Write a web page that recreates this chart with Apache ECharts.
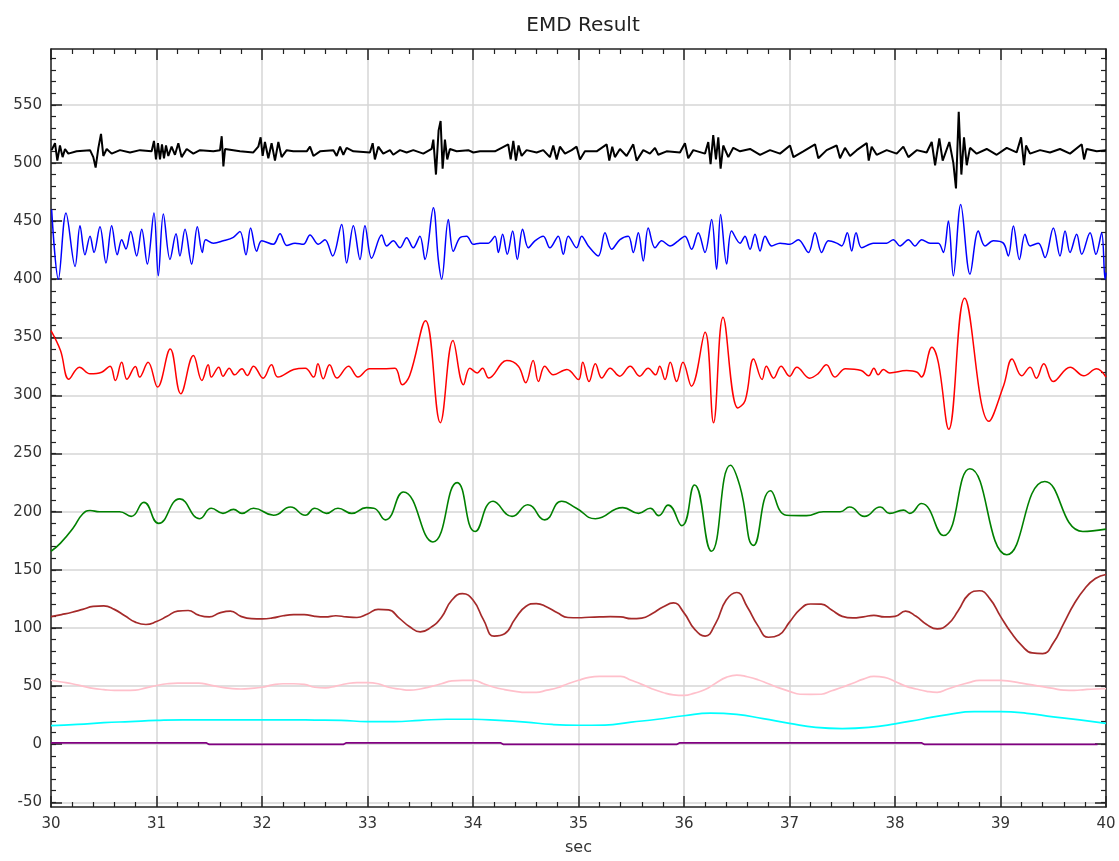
<!DOCTYPE html>
<html>
<head>
<meta charset="utf-8">
<title>EMD Result</title>
<script src="https://cdn.jsdelivr.net/npm/echarts@6/dist/echarts.min.js"></script>
<style>
html,body{margin:0;padding:0;background:#fff}
#chart{width:1119px;height:861px}
</style>
</head>
<body>
<div id="chart"></div>
<script>
// tick labels
const xTicks=[30,31,32,33,34,35,36,37,38,39,40];
const yMajor=[-50,0,50,100,150,200,250,300,350,400,450,500,550];
const yMinor=[-50,-40,-30,-20,-10,0,10,20,30,40,50,60,70,80,90,100,110,120,130,140,150,160,170,180,190,200,210,220,230,240,250,260,270,280,290,300,310,320,330,340,350,360,370,380,390,400,410,420,430,440,450,460,470,480,490,500,510,520,530,540,550,560,570,580,590];

// IMF 1 (black), read at its peaks
const blackT=[30.006,30.038,30.06,30.085,30.11,30.133,30.164,30.243,30.37,30.401,30.423,30.449,30.474,30.496,30.528,30.575,30.654,30.749,30.843,30.954,30.976,30.995,31.014,31.033,31.052,31.071,31.09,31.112,31.143,31.175,31.207,31.238,31.286,31.349,31.412,31.539,31.602,31.618,31.634,31.65,31.791,31.918,31.965,31.987,32.006,32.028,32.06,32.091,32.123,32.155,32.186,32.234,32.297,32.424,32.455,32.487,32.55,32.677,32.708,32.74,32.771,32.802,32.866,33.023,33.049,33.07,33.102,33.149,
33.213,33.244,33.308,33.371,33.434,33.529,33.608,33.624,33.649,33.674,33.693,33.712,33.734,33.756,33.781,33.845,33.955,34.003,34.066,34.208,34.334,34.357,34.382,34.407,34.432,34.461,34.508,34.603,34.666,34.729,34.761,34.793,34.824,34.872,34.935,34.982,35.014,35.061,35.172,35.267,35.292,35.32,35.345,35.393,35.456,35.519,35.551,35.614,35.677,35.725,35.756,35.835,35.962,36.009,36.04,36.088,36.199,36.23,36.252,36.277,36.303,36.325,36.347,36.372,36.42,36.467,
36.531,36.626,36.721,36.815,36.91,37.005,37.037,37.131,37.242,37.273,37.352,37.447,37.479,37.526,37.574,37.637,37.732,37.751,37.779,37.826,37.921,38.016,38.079,38.127,38.206,38.3,38.348,38.38,38.42,38.452,38.515,38.553,38.578,38.604,38.629,38.654,38.68,38.711,38.774,38.869,38.964,39.059,39.153,39.195,39.223,39.242,39.28,39.375,39.469,39.564,39.659,39.77,39.792,39.817,39.912,40.0];
const blackV=[511,517,502,515,505,512,508,510,511,505,496,513,525,506,512,508,511,509,511,510,519,503,517,503,516,504,515,506,514,507,517,505,512,508,511,510,511,523,497,512,510,509,514,522,506,518,504,517,502,518,505,511,510,510,514,506,510,511,506,514,507,513,510,509,517,503,514,508,
511,507,511,509,511,508,512,520,490,528,536,495,520,503,512,510,511,509,510,510,516,503,519,502,515,506,511,509,511,505,515,503,514,508,511,514,503,510,510,516,502,514,505,512,506,516,502,511,508,513,507,510,509,517,504,511,508,518,499,524,503,522,495,515,505,513,
510,512,507,511,508,515,505,510,516,504,511,515,504,513,506,511,517,502,514,507,511,508,514,505,511,509,518,498,521,502,518,500,478,544,490,522,498,513,508,512,507,513,509,522,498,515,508,511,509,512,508,516,503,512,510,511];

// IMF 2 (blue)
const blueT=[30.006,30.07,30.142,30.228,30.275,30.322,30.37,30.408,30.464,30.521,30.575,30.628,30.67,30.711,30.755,30.812,30.86,30.913,30.976,31.017,31.065,31.128,31.185,31.222,31.27,31.333,31.387,31.434,31.466,31.539,31.633,31.728,31.791,31.848,31.892,31.949,31.997,32.107,32.171,32.234,32.313,32.392,32.455,32.534,32.597,32.67,32.755,32.802,32.866,32.929,32.976,33.039,33.134,
33.181,33.244,33.308,33.371,33.434,33.497,33.545,33.624,33.671,33.703,33.766,33.813,33.876,33.94,34.003,34.066,34.145,34.208,34.24,34.281,34.325,34.376,34.42,34.47,34.524,34.587,34.666,34.729,34.808,34.856,34.903,34.982,35.03,35.093,35.188,35.251,35.314,35.393,35.472,35.519,35.567,35.614,35.661,35.725,35.788,35.867,35.946,36.009,36.072,36.135,36.199,36.262,36.309,36.347,36.404,36.451,
36.531,36.578,36.626,36.673,36.721,36.768,36.831,36.91,37.005,37.084,37.179,37.242,37.305,37.368,37.447,37.495,37.548,37.589,37.631,37.684,37.795,37.921,37.984,38.048,38.127,38.19,38.253,38.332,38.411,38.458,38.506,38.553,38.623,38.711,38.79,38.853,38.932,39.027,39.074,39.122,39.179,39.232,39.28,39.359,39.422,39.501,39.564,39.612,39.659,39.722,39.77,39.849,39.905,39.959,39.991,40.0];
const blueV=[460,400,457,411,446,421,437,423,445,414,446,421,434,426,441,420,443,413,457,403,456,417,439,420,443,413,445,423,434,431,433,436,441,421,444,424,433,430,439,429,431,430,438,430,434,420,447,414,446,417,446,418,438,
428.6,433,427,435.7,427,437,417,461.4,417,400,451.4,424,435.7,437,430,431,431,437,423,438.6,421.4,441.4,417,443,427,433,437,427,437,421.4,437,427,437,428.6,420,440,425.7,434,437,423,440,415.7,444,427,433,428.6,433,437,425.7,440,423,451.4,408.6,455.7,413,441.4,
431,437,425.7,438.6,424.3,437,428.6,431,430,434,423,440,423,433,431,428.6,440,424.3,440,427,431,431,434,428.6,434,428.6,434,431,431,423,450,402.9,464.3,404.3,441.4,428.6,433,431,420,445.7,417,438.6,428.6,431,418.6,444,420,441.4,423,438.6,421.4,440,421.4,440,400,405.7];

// IMF 3 (red)
const redT=[30.0,30.09,30.17,30.27,30.37,30.48,30.56,30.61,30.67,30.72,30.8,30.84,30.92,31.01,31.13,31.23,31.35,31.43,31.49,31.52,31.59,31.63,31.69,31.74,31.81,31.86,31.92,32.01,32.09,32.15,32.3,32.41,32.49,32.53,32.58,32.64,32.71,32.82,32.91,33.02,33.15,33.26,33.33,33.4,33.55,33.69,33.81,33.91,33.97,34.04,34.09,34.15,34.32,34.43,34.5,34.57,34.62,34.68,34.76,34.89,35.0,35.04,35.1,35.16,35.22,35.3,35.39,35.49,35.58,35.66,35.73,35.77,35.82,35.87,35.93,35.99,36.07,36.2,36.28,36.37,36.51,36.58,36.66,36.74,36.78,36.85,36.92,37.0,37.07,37.19,37.27,37.35,37.43,37.53,37.68,37.75,37.8,37.84,37.89,37.95,38.11,38.21,38.25,38.35,38.41,38.51,38.66,38.89,39.03,39.11,39.2,39.28,39.34,39.41,39.5,39.66,39.79,39.91,40.0];
const redV=[355.7,338.6,314,324.3,318.6,320,325.2,312.9,328.6,314,325,315.8,328.6,307.2,340,301.5,334.3,312.9,326.3,315.8,324.3,316.6,323.5,317.7,322.9,317.1,325.2,314.9,326.3,315.8,322.3,323.5,315.8,327.2,314.3,326.3,315,325.2,315.8,322.9,322.9,323.5,309.2,317.1,364.3,276.6,347.2,309.2,323.5,319.4,323.5,315,330,325.2,310.9,330,312,325.2,317.7,322.3,313.7,328.6,312,327.2,315,323.5,316.6,325.2,316.6,323.5,317.7,325.2,313.7,328.6,312,328.6,308,354.3,276.6,367.2,289.2,295.7,331.4,313.7,325.2,314.9,325.2,316.6,324.3,314.9,318.6,326.3,315.8,322.9,321.4,316.9,323.5,317.7,322.3,319.4,321.4,320,315.8,341.5,328.6,270.9,383.5,277.7,308.6,331.4,316.9,324.3,314.9,327.2,312,324.3,316.9,322.9,315.8];

// IMF 4 (green)
const greenT=[30.0,30.09,30.21,30.3,30.37,30.46,30.65,30.76,30.88,31.02,31.22,31.41,31.52,31.63,31.73,31.81,31.92,32.11,32.27,32.41,32.5,32.61,32.72,32.85,32.99,33.06,33.17,33.34,33.62,33.85,34.02,34.19,34.37,34.52,34.68,34.84,34.98,35.16,35.42,35.57,35.68,35.76,35.85,35.98,36.1,36.26,36.44,36.53,36.66,36.82,36.97,37.16,37.32,37.48,37.57,37.71,37.86,37.95,38.08,38.14,38.25,38.46,38.71,39.06,39.42,39.78,40.0];
const greenV=[166,173,186,198,201,200,200,196,208,190,211,194,203,198.6,202,198.6,203,197,204,197,203,198.6,203,198.6,203.5,203,193,217,174,225,183,209,196,206,193,209,203,194,203.5,198.6,203,196.6,205.7,188,223,166,240,222,171,218,197,196.6,200,200,204,196,204,198.6,201.4,198.6,207,179.5,237,163,226,183,185];

// IMF 5 (brown), every 0.1 s from 30
const brownV=[109.7,111.5,113.5,116,118.5,119,116,110.5,105,103,
105.5,110,114.5,115,111,109.5,113,114.5,110,108,
107.8,108.6,110.5,111.4,111.4,110,109.5,110.5,109.5,109,
112,116,115.5,108.5,101,96.6,100.5,109,124,129.5,
124,107,93,95,108,118.5,121,118,113,109,
108.8,109.2,109.5,109.7,109.5,108,108.5,112.5,118,121.5,
113,99,93,104,124,130.5,118,102,92,94,
105,116,120.6,120.5,115.5,110,108.6,109.5,110.9,109.5,
110,114.5,110,103,99.2,103,115,129,132,125,
110,96,85,78.5,78,87,104,121,134,142.5,
146];

// IMF 6 (pink), every 0.1 s from 30
const pinkV=[55,53.5,52,50,48,47,46.3,46.3,46.5,48.5,
50.5,52,52.6,52.6,52.6,51,49.2,48,47.5,48,
49,51,52,52,51.5,49,48.5,50,52,53,
53,52,49,47.5,46.5,47.5,49.5,52,54.5,55,
55,52,49,47,45.5,44.6,44.6,46.5,48.6,52,
55,57.5,58.3,58.3,58.3,55,51.5,47.5,44.5,42.5,
42,44,47,52.5,57.5,59.5,58,55.5,52,48.5,
45.5,43,42.9,43,46,49,52.5,56,58.3,57.5,
54,50,47.5,45.5,44.6,47.5,50.5,53,55,55,
55,54,52.5,51,49.5,48,46.5,46.3,47,47.5,
47.7];

// IMF 7 (cyan), every 0.25 s from 30
const cyanV=[16,17,18.5,19.5,20.5,21,21,21,21,21,
20.8,20.5,19.5,19.5,20.5,21.5,21.5,20.5,19,17,
16.3,16.5,19,21.5,24.5,26.8,25.7,22,18,14.5,
13.5,14.5,17.5,21.5,25.5,28,28,26.6,23.5,21,
18];

// residue (purple)
const purpleT=[30,31.47,31.5,32.77,32.8,34.26,34.29,35.93,35.96,38.25,38.28,39.92];
const purpleV=[1.2,1.2,-0.2,-0.2,1.2,1.2,-0.2,-0.2,1.2,1.2,-0.2,-0.2];

function pairs(t,v){return t.map((x,i)=>[x,v[i]])}
function stepped(v,step){return v.map((y,i)=>[+(30+i*step).toFixed(3),y])}

const yMin=-54,yMax=598;
const frame='#222';
const font='DejaVu Sans, Verdana, sans-serif';

function line(name,data,color,width,smooth){
 return {name:name,type:'line',data:data,showSymbol:false,symbol:'none',smooth:smooth,
  lineStyle:{color:color,width:width},itemStyle:{color:color},
  xAxisIndex:0,yAxisIndex:0,z:3};
}

var chart=echarts.init(document.getElementById('chart'),null,{renderer:'canvas'});
chart.setOption({
 animation:false,
 backgroundColor:'#fff',
 title:{text:'EMD Result',left:578,top:11,textAlign:'center',
  textStyle:{fontFamily:font,fontSize:20,fontWeight:'normal',color:'#222'}},
 grid:{left:51,right:13,top:49,bottom:50,containLabel:false},
 xAxis:[
  {type:'value',min:30,max:40,interval:1,position:'bottom',
   name:'sec',nameLocation:'middle',nameGap:33,
   nameTextStyle:{fontFamily:font,fontSize:16,color:'#333'},
   axisLine:{onZero:false,lineStyle:{color:frame,width:1.5}},
   axisTick:{inside:true,length:11,lineStyle:{color:frame,width:1.5}},
   minorTick:{show:true,splitNumber:5,length:5,lineStyle:{color:frame,width:1.2}},
   splitLine:{show:true,lineStyle:{color:'#d6d6d6',width:1.5}},
   axisLabel:{margin:10,fontFamily:font,fontSize:15,color:'#333',customValues:xTicks}},
  {type:'value',min:30,max:40,interval:1,position:'top',
   axisLine:{onZero:false,lineStyle:{color:frame,width:1.5}},
   axisTick:{inside:true,length:11,lineStyle:{color:frame,width:1.5}},
   minorTick:{show:true,splitNumber:5,length:5,lineStyle:{color:frame,width:1.2}},
   splitLine:{show:false},axisLabel:{show:false}}
 ],
 yAxis:[
  {type:'value',min:yMin,max:yMax,position:'left',
   axisLine:{onZero:false,lineStyle:{color:frame,width:1.5}},
   axisTick:{inside:true,length:11,customValues:yMajor,lineStyle:{color:frame,width:1.5}},
   splitLine:{show:true,lineStyle:{color:'#d6d6d6',width:1.5}},
   axisLabel:{margin:9,customValues:yMajor,fontFamily:font,fontSize:15,color:'#333'}},
  {type:'value',min:yMin,max:yMax,position:'left',
   axisLine:{show:false,onZero:false},
   axisTick:{inside:true,length:5,customValues:yMinor,lineStyle:{color:frame,width:1.2}},
   splitLine:{show:false},axisLabel:{show:false}},
  {type:'value',min:yMin,max:yMax,position:'right',
   axisLine:{onZero:false,lineStyle:{color:frame,width:1.5}},
   axisTick:{inside:true,length:11,customValues:yMajor,lineStyle:{color:frame,width:1.5}},
   splitLine:{show:false},axisLabel:{show:false}},
  {type:'value',min:yMin,max:yMax,position:'right',
   axisLine:{show:false,onZero:false},
   axisTick:{inside:true,length:5,customValues:yMinor,lineStyle:{color:frame,width:1.2}},
   splitLine:{show:false},axisLabel:{show:false}}
 ],
 series:[
  line('IMF1',pairs(blackT,blackV),'#000000',2,false),
  line('IMF2',pairs(blueT,blueV),'#0000ff',1.5,0.35),
  line('IMF3',pairs(redT,redV),'#ff0000',1.5,0.4),
  line('IMF4',pairs(greenT,greenV),'#008000',1.6,0.5),
  line('IMF5',stepped(brownV,0.1),'#a52a2a',1.7,0.5),
  line('IMF6',stepped(pinkV,0.1),'#ffc0cb',1.7,0.5),
  line('IMF7',stepped(cyanV,0.25),'#00ffff',1.7,0.5),
  line('Residue',pairs(purpleT,purpleV),'#800080',1.7,false)
 ]
});
</script>
</body>
</html>
